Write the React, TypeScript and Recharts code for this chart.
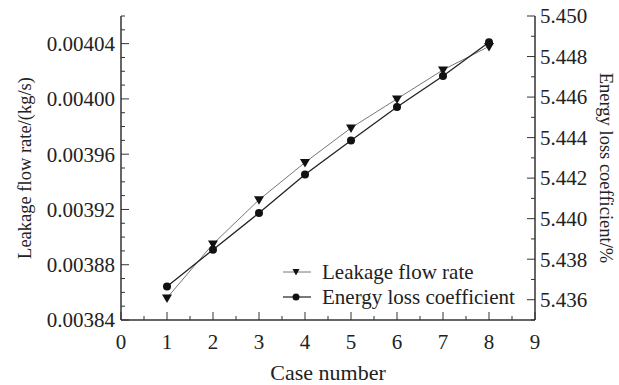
import React from "react";
import { LineChart, Line, XAxis, YAxis, Label } from "recharts";

// values
const caseNumbers = [1, 2, 3, 4, 5, 6, 7, 8];
const leakageFlow = [0.003856, 0.003895, 0.003927, 0.003954, 0.003979, 0.004, 0.004021, 0.004038];
const energyLoss = [5.43665, 5.43847, 5.44028, 5.44218, 5.44386, 5.44551, 5.44704, 5.4487];

const xMajorTicks = [0, 1, 2, 3, 4, 5, 6, 7, 8, 9];
const xMinorTicks = [0.5, 1.5, 2.5, 3.5, 4.5, 5.5, 6.5, 7.5, 8.5];
const leftMajorTicks = [0.00384, 0.00388, 0.00392, 0.00396, 0.004, 0.00404];
const leftMinorTicks = [
  0.00385, 0.00386, 0.00387, 0.00389, 0.0039, 0.00391, 0.00393, 0.00394, 0.00395,
  0.00397, 0.00398, 0.00399, 0.00401, 0.00402, 0.00403, 0.00405, 0.00406,
];
const rightMajorTicks = [5.436, 5.438, 5.44, 5.442, 5.444, 5.446, 5.448, 5.45];
const rightMinorTicks = [5.435, 5.437, 5.439, 5.441, 5.443, 5.445, 5.447, 5.449];

const data = caseNumbers.map((c, i) => ({
  caseNo: c,
  leakage: leakageFlow[i],
  energy: energyLoss[i],
}));

const FONT = "'Liberation Serif', 'Times New Roman', serif";
const INK = "#222";
const AXIS = "#333";
const tickText = { fontFamily: FONT, fontSize: 21, fill: INK };

const sortNum = (a: number[]) => [...a].sort((p, q) => p - q);
const isIn = (v: number, list: number[]) => list.some((t) => Math.abs(t - v) < 1e-9);

const BottomTick = (props: any) => {
  const { x, y, payload } = props;
  const major = isIn(payload.value, xMajorTicks);
  return (
    <g>
      <line x1={x} x2={x} y1={y} y2={y - (major ? 8 : 4)} stroke={AXIS} strokeWidth={1} />
      {major && (
        <text x={x} y={y + 29} textAnchor="middle" style={tickText}>
          {payload.value}
        </text>
      )}
    </g>
  );
};

const TopTick = (props: any) => {
  const { x, y, payload } = props;
  const major = isIn(payload.value, xMajorTicks);
  return <line x1={x} x2={x} y1={y} y2={y + (major ? 8 : 4)} stroke={AXIS} strokeWidth={1} />;
};

const LeftTick = (props: any) => {
  const { x, y, payload } = props;
  const major = isIn(payload.value, leftMajorTicks);
  return (
    <g>
      <line x1={x} x2={x + (major ? 8 : 4)} y1={y} y2={y} stroke={AXIS} strokeWidth={1} />
      {major && (
        <text x={x - 6} y={y} dy="0.35em" textAnchor="end" style={tickText}>
          {payload.value.toFixed(5)}
        </text>
      )}
    </g>
  );
};

const RightTick = (props: any) => {
  const { x, y, payload } = props;
  const major = isIn(payload.value, rightMajorTicks);
  return (
    <g>
      <line x1={x} x2={x - (major ? 8 : 4)} y1={y} y2={y} stroke={AXIS} strokeWidth={1} />
      {major && (
        <text x={x + 5} y={y} dy="0.35em" textAnchor="start" style={tickText}>
          {payload.value.toFixed(3)}
        </text>
      )}
    </g>
  );
};

const TriangleDot = (props: any) => {
  const { cx, cy } = props;
  if (cx == null || cy == null) return null;
  return (
    <polygon
      points={`${cx - 5},${cy - 3.5} ${cx + 5},${cy - 3.5} ${cx},${cy + 5}`}
      fill="#111"
    />
  );
};

const CircleDot = (props: any) => {
  const { cx, cy } = props;
  if (cx == null || cy == null) return null;
  return <circle cx={cx} cy={cy} r={4} fill="#111" />;
};

function LegendBox() {
  const txt = { fontFamily: FONT, fontSize: 21, fill: INK };
  return (
    <svg
      width={619}
      height={385}
      style={{ position: "absolute", left: 0, top: 0, pointerEvents: "none" }}
    >
      <line x1={283} x2={311} y1={272} y2={272} stroke="#777" strokeWidth={1} />
      <polygon points="292.5,269 299.5,269 296,275.5" fill="#111" />
      <text x={322} y={272} dy="0.35em" style={txt}>
        Leakage flow rate
      </text>
      <line x1={283} x2={311} y1={297} y2={297} stroke="#222" strokeWidth={1.2} />
      <circle cx={296} cy={297} r={3.5} fill="#111" />
      <text x={322} y={297} dy="0.35em" style={txt}>
        Energy loss coefficient
      </text>
    </svg>
  );
}

export default function App() {
  return (
    <div style={{ position: "absolute", left: 0, top: 0, width: 619, height: 385, background: "#fff" }}>
      <LineChart width={619} height={385} data={data} margin={{ top: 16, right: 0, bottom: 0, left: 0 }}>
        <XAxis
          dataKey="caseNo"
          type="number"
          domain={[0, 9]}
          ticks={sortNum([...xMajorTicks, ...xMinorTicks])}
          interval={0}
          height={65}
          tickSize={0}
          tickMargin={0}
          tickLine={false}
          axisLine={{ stroke: AXIS, strokeWidth: 1.5 }}
          tick={<BottomTick />}
        >
          <Label
            value="Case number"
            position="insideBottom"
            offset={5}
            style={{ fontSize: 22, fontFamily: FONT, fill: INK }}
          />
        </XAxis>
        <XAxis
          xAxisId="top"
          dataKey="caseNo"
          type="number"
          orientation="top"
          domain={[0, 9]}
          ticks={sortNum([...xMajorTicks, ...xMinorTicks])}
          interval={0}
          height={0}
          tickSize={0}
          tickMargin={0}
          tickLine={false}
          axisLine={{ stroke: AXIS, strokeWidth: 1.5 }}
          tick={<TopTick />}
        />
        <YAxis
          yAxisId="left"
          type="number"
          domain={[0.00384, 0.00406]}
          ticks={sortNum([...leftMajorTicks, ...leftMinorTicks])}
          interval={0}
          width={121}
          tickSize={0}
          tickMargin={0}
          tickLine={false}
          axisLine={{ stroke: AXIS, strokeWidth: 1.5 }}
          tick={<LeftTick />}
          label={{
            value: "Leakage flow rate/(kg/s)",
            angle: -90,
            position: "insideLeft",
            offset: 24,
            style: { textAnchor: "middle", fontSize: 18.5, fontFamily: FONT, fill: INK },
          }}
        />
        <YAxis
          yAxisId="right"
          orientation="right"
          type="number"
          domain={[5.435, 5.45]}
          ticks={sortNum([...rightMajorTicks, ...rightMinorTicks])}
          interval={0}
          width={84}
          tickSize={0}
          tickMargin={0}
          tickLine={false}
          axisLine={{ stroke: AXIS, strokeWidth: 1.5 }}
          tick={<RightTick />}
          label={{
            value: "Energy loss coefficient/%",
            angle: 90,
            position: "insideRight",
            offset: 12,
            style: { textAnchor: "middle", fontSize: 18.5, fontFamily: FONT, fill: INK },
          }}
        />
        <Line
          yAxisId="left"
          dataKey="leakage"
          stroke="#777"
          strokeWidth={1}
          dot={<TriangleDot />}
          activeDot={false}
          isAnimationActive={false}
        />
        <Line
          yAxisId="right"
          dataKey="energy"
          stroke="#222"
          strokeWidth={1.3}
          dot={<CircleDot />}
          activeDot={false}
          isAnimationActive={false}
        />
      </LineChart>
      <LegendBox />
    </div>
  );
}
